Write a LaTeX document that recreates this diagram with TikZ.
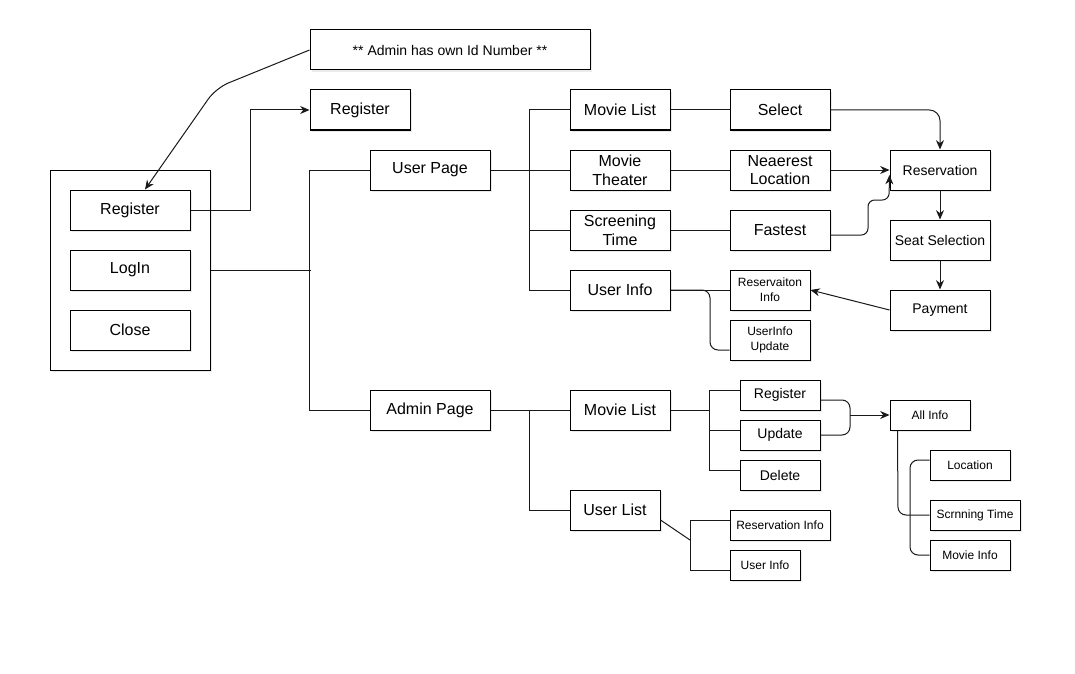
\documentclass[tikz,border=0pt]{standalone}
\usepackage{fontspec}
\setmainfont{Liberation Sans}
\usetikzlibrary{arrows.meta,shadows}
\begin{document}
\begin{tikzpicture}[x=0.75pt,y=-0.75pt,
  line width=0.75pt,
  box/.style={draw=black, fill=white, rectangle, inner sep=0pt, align=center,
    drop shadow={shadow xshift=1.8pt, shadow yshift=-1.8pt, opacity=0.08, fill=black}},
  big/.style={box, font=\fontsize{12pt}{14pt}\selectfont},
  mid/.style={box, font=\fontsize{10.5pt}{12pt}\selectfont},
  sml/.style={box, font=\fontsize{9pt}{11pt}\selectfont},
  link/.style={draw=black!90},
  arr/.style={link, -{Stealth[length=7pt,width=6pt]}}]

\fill[white] (0,0) rectangle (1075,674);
\useasboundingbox (0,0) rectangle (1075,674);

% start screen
\node[box, minimum width=120pt, minimum height=150pt] (outer) at (130,270) {};
\node[big, minimum width=90pt, minimum height=30pt] (regI) at (130,210) {Register};
\node[big, minimum width=90pt, minimum height=30pt] (login) at (130,270) {LogIn};
\node[big, minimum width=90pt, minimum height=30pt] (close) at (130,330) {Close};

\node[mid, minimum width=210pt, minimum height=30pt] (note) at (450,50) {** Admin has own Id Number **};
\node[big, minimum width=75pt, minimum height=30pt] (regT) at (360,110) {Register};

% pages
\node[big, minimum width=90pt, minimum height=30pt] (userpage) at (430,170) {User Page};
\node[big, minimum width=90pt, minimum height=30pt] (adminpage) at (430,410) {Admin Page};

% user side
\node[big, minimum width=75pt, minimum height=30pt] (ml) at (620,110) {Movie List};
\node[big, minimum width=75pt, minimum height=30pt] (mt) at (620,170) {Movie\\Theater};
\node[big, minimum width=75pt, minimum height=30pt] (st) at (620,230) {Screening\\Time};
\node[big, minimum width=75pt, minimum height=30pt] (ui) at (620,290) {User Info};

\node[big, minimum width=75pt, minimum height=30pt] (sel) at (780,110) {Select};
\node[big, minimum width=75pt, minimum height=30pt] (near) at (780,170) {Neaerest\\Location};
\node[big, minimum width=75pt, minimum height=30pt] (fast) at (780,230) {Fastest};
\node[sml, minimum width=60pt, minimum height=30pt] (rinfo) at (770,290) {Reservaiton\\Info};
\node[sml, minimum width=60pt, minimum height=30pt] (uiupd) at (770,340) {UserInfo\\Update};

\node[mid, minimum width=75pt, minimum height=30pt] (resv) at (940,170) {Reservation};
\node[mid, minimum width=75pt, minimum height=30pt] (seat) at (940,240) {Seat Selection};
\node[mid, minimum width=75pt, minimum height=30pt] (pay) at (940,310) {Payment};

% admin side
\node[big, minimum width=75pt, minimum height=30pt] (aml) at (620,410) {Movie List};
\node[big, minimum width=67.5pt, minimum height=30pt] (ul) at (615,510) {User List};

\node[mid, minimum width=60pt, minimum height=22.5pt] (areg) at (780,395) {Register};
\node[mid, minimum width=60pt, minimum height=22.5pt] (aupd) at (780,435) {Update};
\node[mid, minimum width=60pt, minimum height=22.5pt] (adel) at (780,475) {Delete};

\node[sml, minimum width=60pt, minimum height=22.5pt] (all) at (930,415) {All Info};
\node[sml, minimum width=60pt, minimum height=22.5pt] (loc) at (970,465) {Location};
\node[sml, minimum width=67.5pt, minimum height=22.5pt] (scr) at (975,515) {Scrnning Time};
\node[sml, minimum width=60pt, minimum height=22.5pt] (minfo) at (970,555) {Movie Info};

\node[sml, minimum width=75pt, minimum height=22.5pt] (resinfo) at (780,525) {Reservation Info};
\node[sml, minimum width=52.5pt, minimum height=22.5pt] (auinfo) at (765,565) {User Info};

\coordinate (join) at (850,415);

% connectors: start screen
\draw[arr, rounded corners=10pt] (note.west) -- (216,88) -- ([xshift=11.25pt]regI.north);
\draw[arr] (regI.east) -- ++(60,0) |- (regT.west);
\draw[link] (outer.east) -- ++(100,0);
\draw[link] (userpage.west) -- ++(-60,0) |- (adminpage.west);

% connectors: user page
\draw[link] (userpage.east) -- (mt.west);
\draw[link] (ml.west) -- ++(-40,0) |- (ui.west);
\draw[link] (st.west) -- ++(-40,0);
\draw[link] (ml.east) -- (sel.west);
\draw[link] (mt.east) -- (near.west);
\draw[link] (st.east) -- (fast.west);
\draw[link] (ui.east) -- (rinfo.west);
\draw[link, rounded corners=6pt] (ui.east) -- (710,290) -- (710,350) -- ([yshift=-7.5pt]uiupd.west);

\draw[arr, rounded corners=8pt] (sel.east) -| (resv.north);
\draw[arr] (near.east) -- (resv.west);
\draw[arr, rounded corners=5pt] ([yshift=-3.75pt]fast.east) -- (868,235) -- (868,200) -- (889,200) -- ([yshift=-3.75pt]resv.west);
\draw[arr] (resv.south) -- (seat.north);
\draw[arr] (seat.south) -- (pay.north);
\draw[arr] (pay.west) -- (rinfo.east);

% connectors: admin page
\draw[link] (adminpage.east) -- (aml.west);
\draw[link] ([xshift=-30pt]aml.west) |- (ul.west);
\draw[link] (aml.east) -- (710,410);
\draw[link] ([yshift=3.75pt]areg.west) -- ++(-30,0) |- ([yshift=3.75pt]adel.west);
\draw[link] ([yshift=3.75pt]aupd.west) -- ++(-30,0);

\draw[link, rounded corners=6pt] ([yshift=-3.75pt]areg.east) -- (850,400) -- (850,435) -- (aupd.east);
\draw[arr] (join) -- (all.west);
\draw[link, rounded corners=6pt] ([xshift=6pt]all.south west) -- (898,515) -- (scr.west);
\draw[link, rounded corners=6pt] ([yshift=3.75pt]loc.west) -- (910,460) -- (910,555) -- (minfo.west);

\draw[link] ([yshift=-7.5pt]ul.east) -- (690,540);
\draw[link] ([yshift=3.75pt]resinfo.west) -- (690,520) -- (690,570) -- ([yshift=-3.75pt]auinfo.west);
\end{tikzpicture}
\end{document}
